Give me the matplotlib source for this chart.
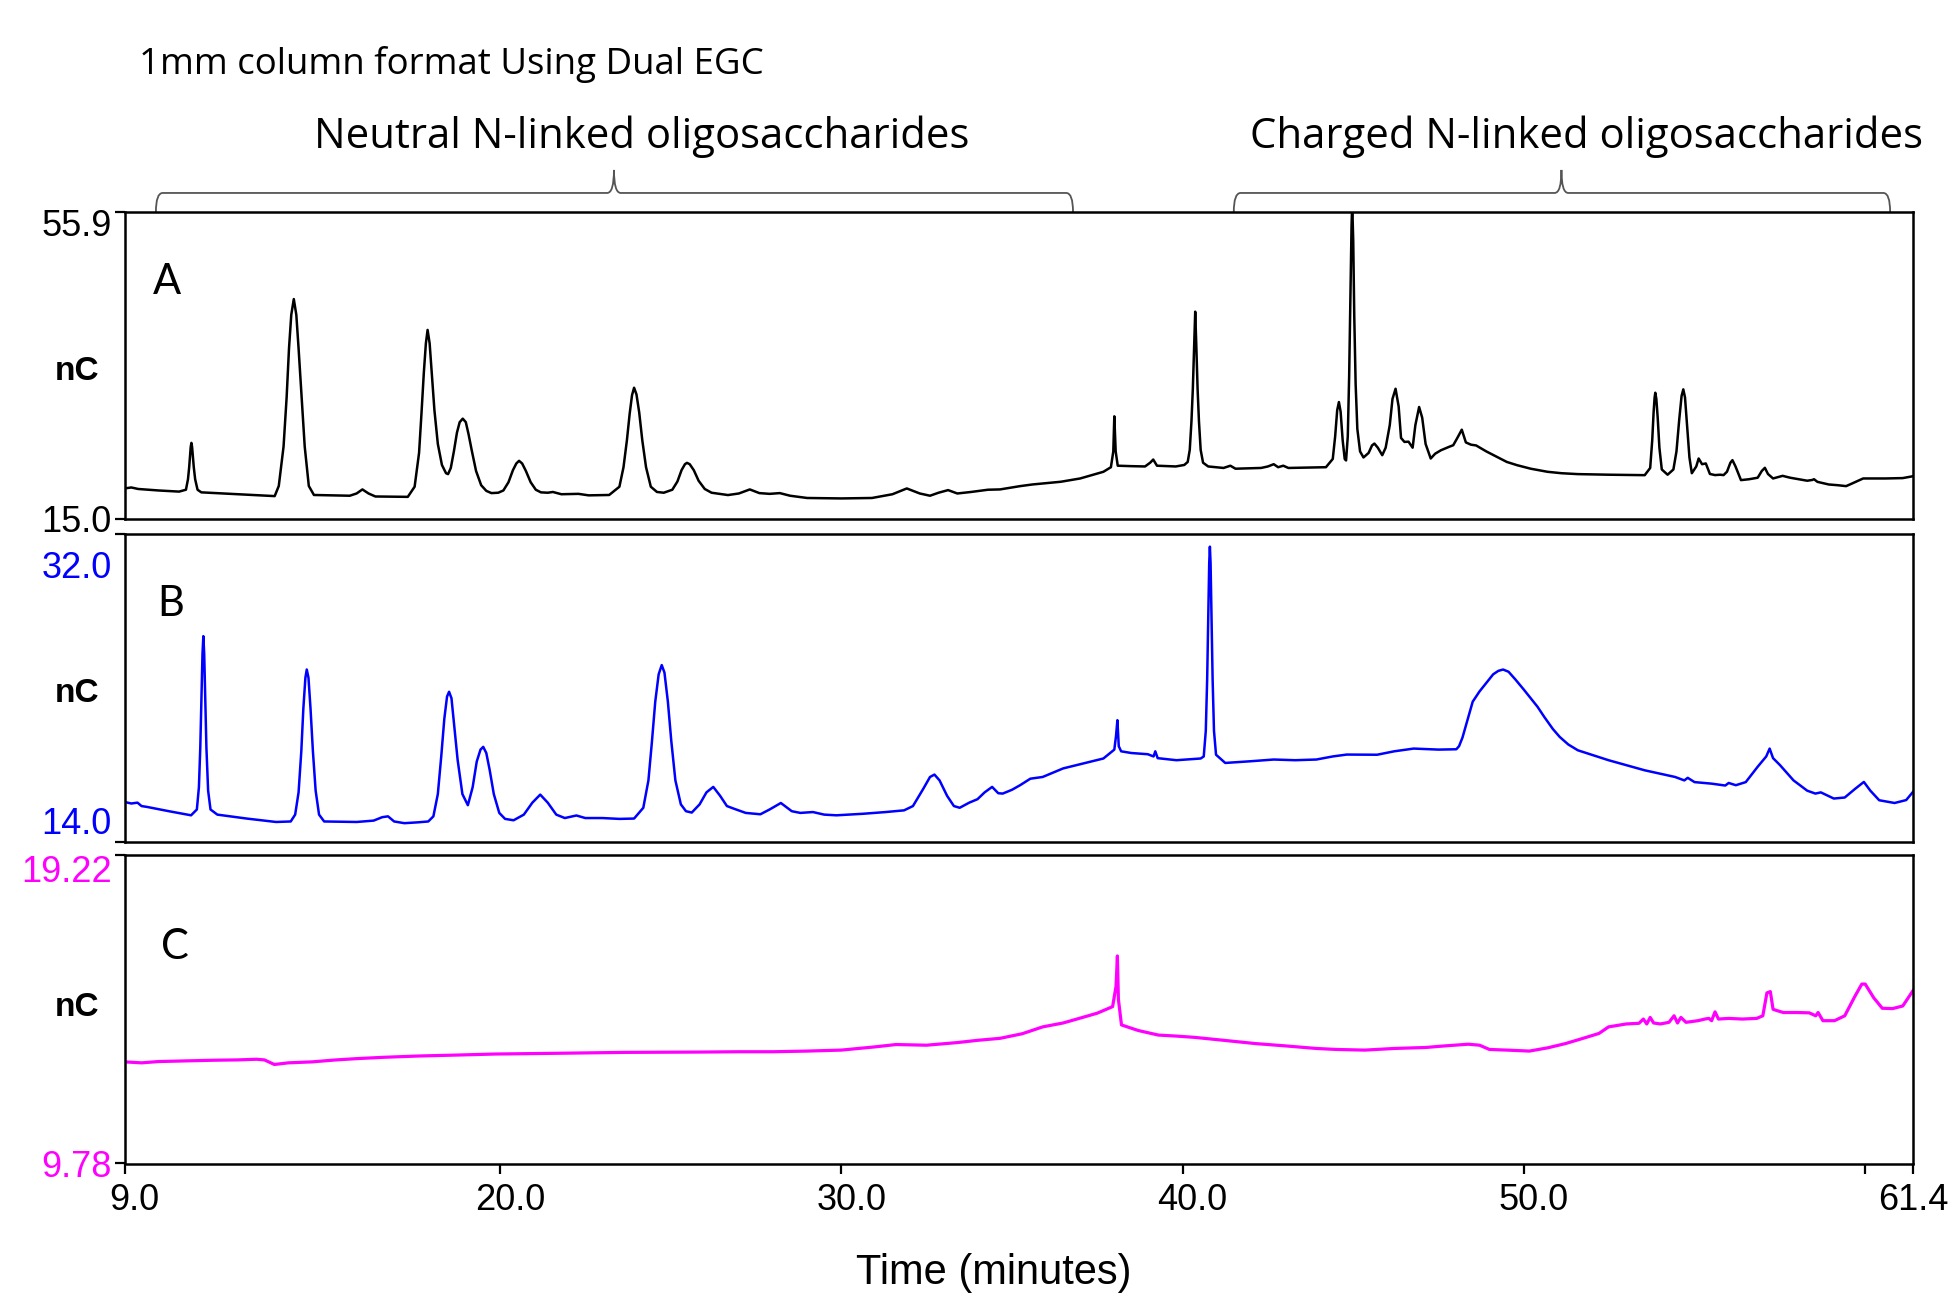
import matplotlib
matplotlib.use("Agg")
import matplotlib.pyplot as plt
import matplotlib.transforms as mtransforms
from matplotlib.path import Path
from matplotlib.patches import PathPatch

# chromatogram traces: (time in minutes, signal in nC)
a_trace = [
    (9.0, 19.07), (9.2, 19.2), (9.4, 19.0), (10.0, 18.8), (10.6, 18.65),
    (10.8, 18.9), (10.86, 20.3), (10.895, 21.9), (10.92, 23.5), (10.94, 24.6), (10.96, 25.14), (10.98, 24.6),
    (11.0, 23.5), (11.03, 21.9), (11.07, 20.3), (11.14, 18.9), (11.25, 18.55),
    (11.9, 18.4), (12.8, 18.2), (13.4, 18.05),
    (13.52, 19.4), (13.66, 24.65), (13.75, 31.2), (13.82, 37.75), (13.886, 42.2), (13.96, 44.3), (14.034, 42.2),
    (14.1, 37.75), (14.19, 31.2), (14.28, 24.65), (14.4, 19.4), (14.55, 18.2),
    (15.6, 18.1), (15.8, 18.4), (15.97, 18.94), (16.15, 18.4), (16.35, 18.0), (17.3, 17.95),
    (17.5, 19.3), (17.63, 23.8), (17.7, 29.0), (17.77, 34.5), (17.83, 38.4), (17.88, 40.19), (17.94, 38.4),
    (18.0, 34.5), (18.08, 29.5), (18.18, 25.0), (18.3, 22.2), (18.42, 21.1), (18.48, 20.98), (18.56, 21.8),
    (18.65, 24.0), (18.74, 26.5), (18.82, 27.9), (18.91, 28.37), (19.0, 27.9), (19.08, 26.3), (19.18, 24.0),
    (19.3, 21.4), (19.45, 19.5), (19.6, 18.75), (19.75, 18.45),
    (19.95, 18.5), (20.1, 18.8), (20.25, 19.9), (20.38, 21.5), (20.48, 22.4), (20.56, 22.75), (20.65, 22.4),
    (20.76, 21.4), (20.9, 19.9), (21.05, 18.9), (21.2, 18.55), (21.4, 18.5),
    (21.55, 18.6), (21.8, 18.3), (22.3, 18.35), (22.6, 18.15), (23.2, 18.2),
    (23.5, 19.3), (23.62, 21.9), (23.72, 25.5), (23.8, 29.0), (23.87, 31.5), (23.93, 32.49), (24.0, 31.6),
    (24.08, 29.2), (24.17, 25.5), (24.28, 21.9), (24.42, 19.3), (24.6, 18.6), (24.8, 18.5),
    (25.05, 18.9), (25.2, 20.0), (25.32, 21.5), (25.42, 22.3), (25.48, 22.48), (25.56, 22.3), (25.68, 21.5),
    (25.82, 20.1), (26.0, 19.0), (26.2, 18.5), (26.68, 18.19),
    (27.0, 18.4), (27.32, 18.94), (27.6, 18.45), (27.9, 18.35), (28.2, 18.45), (28.5, 18.1), (29.0, 17.8),
    (30.0, 17.74), (30.9, 17.8), (31.5, 18.3), (31.92, 19.07), (32.3, 18.4), (32.6, 18.1), (32.85, 18.5),
    (33.13, 18.85), (33.4, 18.4), (33.8, 18.6), (34.3, 18.9), (34.65, 18.94), (35.24, 19.38), (35.6, 19.6),
    (36.43, 19.96), (37.0, 20.4), (37.68, 21.29), (37.9, 21.9), (37.97, 24.0), (38.0, 28.68), (38.04, 24.0),
    (38.1, 22.1), (38.5, 22.04), (38.9, 22.0), (39.05, 22.5), (39.14, 22.92), (39.25, 22.1), (39.8, 22.0),
    (40.05, 22.2), (40.15, 22.6), (40.21, 24.2), (40.26, 28.0), (40.3, 32.3), (40.34, 38.4), (40.37, 42.62),
    (40.4, 38.4), (40.44, 32.3), (40.48, 28.0), (40.53, 24.2), (40.6, 22.5), (40.75, 22.0),
    (41.2, 21.8), (41.4, 22.1), (41.55, 21.7), (42.3, 21.8), (42.5, 22.0),
    (42.67, 22.3), (42.8, 21.9), (42.95, 22.1), (43.1, 21.8), (44.2, 21.9),
    (44.4, 23.0), (44.47, 26.0), (44.53, 29.5), (44.58, 30.58), (44.63, 29.3), (44.69, 25.5), (44.75, 23.0),
    (44.79, 22.8), (44.84, 26.0), (44.88, 34.0), (44.92, 45.0), (44.95, 54.0), (44.97, 57.0), (45.0, 52.0),
    (45.03, 42.0), (45.07, 33.0), (45.12, 27.0), (45.2, 24.0), (45.3, 23.2),
    (45.45, 23.8), (45.55, 24.8), (45.62, 25.05), (45.72, 24.5), (45.85, 23.5),
    (45.95, 24.5), (46.07, 27.5), (46.15, 31.0), (46.24, 32.35), (46.33, 30.0), (46.4, 25.8), (46.5, 25.27),
    (46.62, 25.3), (46.74, 24.5), (46.82, 27.5), (46.93, 29.92), (47.02, 28.5), (47.12, 25.0), (47.27, 23.06),
    (47.4, 23.7), (47.57, 24.16), (47.8, 24.6), (47.93, 24.83), (48.05, 25.8), (48.18, 26.9), (48.3, 25.2),
    (48.45, 24.9), (48.6, 24.8), (48.9, 24.0), (49.2, 23.3), (49.5, 22.6), (49.8, 22.17), (50.2, 21.7),
    (50.69, 21.29), (51.1, 21.1), (51.58, 20.98), (52.5, 20.9), (53.54, 20.84),
    (53.7, 21.8), (53.76, 25.5), (53.8, 29.2), (53.83, 31.2), (53.85, 31.82), (53.88, 31.0), (53.92, 28.5),
    (53.97, 24.5), (54.04, 21.6), (54.21, 20.9), (54.38, 21.6), (54.47, 24.0), (54.55, 28.2), (54.62, 31.4),
    (54.67, 32.27), (54.72, 31.2), (54.78, 27.5), (54.85, 23.2), (54.92, 21.1),
    (55.05, 22.0), (55.12, 23.06), (55.22, 22.3), (55.33, 22.4),
    (55.45, 21.0), (55.6, 20.85), (55.75, 20.9), (55.85, 20.85), (55.95, 21.3), (56.05, 22.5), (56.11, 22.84),
    (56.2, 22.0), (56.36, 20.18), (56.6, 20.3), (56.85, 20.5), (56.97, 21.4), (57.06, 21.82), (57.15, 21.0),
    (57.3, 20.4), (57.58, 20.75), (57.8, 20.5), (58.3, 20.1), (58.45, 20.2), (58.5, 20.3), (58.6, 19.95),
    (58.93, 19.6), (59.2, 19.5), (59.44, 19.38), (59.6, 19.7), (59.94, 20.4), (60.6, 20.4), (61.1, 20.45),
    (61.4, 20.7),
]

b_trace = [
    (9.0, 16.34), (9.2, 16.25), (9.38, 16.3), (9.5, 16.1), (9.66, 16.05), (10.3, 15.8), (10.95, 15.56),
    (11.12, 15.9), (11.18, 17.2), (11.22, 19.5), (11.255, 22.5), (11.285, 25.0), (11.31, 26.03), (11.335, 25.0),
    (11.365, 22.5), (11.4, 19.5), (11.45, 17.0), (11.52, 15.9),
    (11.72, 15.6), (12.58, 15.37), (13.44, 15.17), (13.87, 15.2),
    (14.0, 15.6), (14.1, 16.9), (14.18, 19.3), (14.24, 21.8), (14.3, 23.6), (14.34, 24.08), (14.39, 23.6),
    (14.45, 21.8), (14.52, 19.3), (14.6, 17.0), (14.7, 15.6), (14.85, 15.2),
    (15.8, 15.17), (16.3, 15.25), (16.55, 15.45), (16.72, 15.5), (16.9, 15.2), (17.2, 15.1), (17.6, 15.15),
    (17.9, 15.2),
    (18.05, 15.5), (18.18, 16.8), (18.28, 19.0), (18.37, 21.2), (18.45, 22.5), (18.51, 22.78), (18.58, 22.4),
    (18.66, 20.8), (18.76, 18.8), (18.9, 16.8), (19.06, 16.15), (19.2, 17.2), (19.32, 18.7), (19.43, 19.4),
    (19.51, 19.56), (19.6, 19.2), (19.7, 18.2), (19.82, 16.8), (19.98, 15.7), (20.15, 15.35), (20.4, 15.27),
    (20.7, 15.6), (20.95, 16.3), (21.18, 16.77), (21.4, 16.3), (21.65, 15.6), (21.9, 15.4), (22.24, 15.55),
    (22.5, 15.4), (23.0, 15.4), (23.5, 15.35), (23.93, 15.37),
    (24.2, 16.0), (24.35, 17.6), (24.45, 19.8), (24.55, 22.2), (24.65, 23.8), (24.74, 24.34), (24.82, 23.9),
    (24.92, 22.2), (25.02, 19.9), (25.14, 17.6), (25.3, 16.2), (25.45, 15.8), (25.62, 15.72),
    (25.85, 16.2), (26.05, 16.9), (26.25, 17.22), (26.45, 16.7), (26.65, 16.1), (26.85, 15.95), (27.2, 15.7),
    (27.63, 15.62), (27.9, 15.9), (28.23, 16.28), (28.55, 15.8), (28.8, 15.7), (29.17, 15.75), (29.5, 15.6),
    (29.86, 15.56), (30.64, 15.65), (31.3, 15.75), (31.84, 15.85),
    (32.1, 16.1), (32.4, 17.1), (32.6, 17.8), (32.73, 17.94), (32.88, 17.6), (33.1, 16.7), (33.3, 16.1),
    (33.47, 16.0), (33.75, 16.3), (33.99, 16.5), (34.2, 16.9), (34.42, 17.22), (34.6, 16.85), (34.73, 16.83),
    (35.0, 17.05), (35.24, 17.32), (35.54, 17.7), (35.9, 17.8), (36.5, 18.3), (37.15, 18.62), (37.68, 18.88),
    (38.0, 19.4), (38.05, 20.2), (38.09, 21.12), (38.13, 19.6), (38.2, 19.3), (38.5, 19.2), (38.98, 19.13),
    (39.15, 19.0), (39.2, 19.3), (39.27, 18.9), (39.82, 18.78), (40.53, 18.88),
    (40.62, 19.0), (40.68, 20.5), (40.72, 23.5), (40.755, 27.5), (40.78, 30.3), (40.8, 31.26), (40.82, 30.3),
    (40.845, 27.5), (40.88, 23.5), (40.92, 20.5), (40.98, 19.1),
    (41.25, 18.62), (42.0, 18.72), (42.67, 18.82), (43.3, 18.78), (43.92, 18.82), (44.4, 19.0), (44.81, 19.11),
    (45.7, 19.1), (46.2, 19.3), (46.77, 19.46), (47.5, 19.4), (48.02, 19.42),
    (48.1, 19.6), (48.2, 20.1), (48.3, 20.8), (48.37, 21.31), (48.5, 22.2), (48.7, 22.8), (48.9, 23.3),
    (49.1, 23.8), (49.25, 24.0), (49.39, 24.08), (49.55, 23.95), (49.75, 23.5), (50.0, 22.9), (50.16, 22.5),
    (50.4, 21.9), (50.6, 21.3), (50.85, 20.6), (51.05, 20.14), (51.3, 19.7), (51.58, 19.36),
    (52.48, 18.78), (53.54, 18.19), (54.43, 17.8), (54.7, 17.6), (54.8, 17.75),
    (55.0, 17.5), (55.5, 17.41), (55.9, 17.3), (56.0, 17.45), (56.21, 17.32), (56.5, 17.5), (56.85, 18.4),
    (57.1, 19.0), (57.2, 19.46), (57.3, 18.9), (57.5, 18.5), (57.9, 17.6), (58.3, 17.0), (58.54, 16.83),
    (58.7, 16.9), (59.08, 16.54), (59.4, 16.6), (59.7, 17.1), (59.96, 17.51), (60.15, 17.0), (60.41, 16.44),
    (60.86, 16.28), (61.2, 16.45), (61.4, 16.93),
]

c_trace = [
    (9.0, 12.89), (9.5, 12.86), (10.0, 12.9), (10.8, 12.92), (11.63, 12.94), (12.3, 12.95), (12.87, 12.97),
    (13.1, 12.95), (13.39, 12.81), (13.8, 12.86), (14.5, 12.89), (15.2, 12.95), (15.82, 12.99), (16.6, 13.03),
    (17.64, 13.07), (18.8, 13.1), (19.87, 13.13), (21.5, 13.15), (23.66, 13.18), (25.86, 13.19), (27.0, 13.2),
    (28.0, 13.2), (29.0, 13.22), (30.0, 13.25), (31.0, 13.35), (31.6, 13.42), (32.5, 13.4), (33.4, 13.48),
    (34.0, 13.55), (34.65, 13.61), (35.3, 13.75), (35.9, 13.96), (36.5, 14.08), (36.97, 14.22), (37.5, 14.38),
    (37.95, 14.58), (38.05, 15.2), (38.09, 16.13), (38.12, 14.8), (38.21, 14.02), (38.7, 13.85), (39.29, 13.71),
    (39.8, 13.68), (40.35, 13.64), (41.2, 13.55), (42.13, 13.45), (43.0, 13.38), (43.92, 13.3), (44.5, 13.27),
    (45.34, 13.25), (46.2, 13.3), (47.12, 13.33), (47.7, 13.38), (48.37, 13.43), (48.7, 13.4), (48.99, 13.27),
    (49.5, 13.25), (50.16, 13.22), (50.7, 13.32), (51.22, 13.45), (51.7, 13.6), (52.2, 13.76), (52.48, 13.96),
    (53.0, 14.05), (53.37, 14.07), (53.5, 14.2), (53.6, 14.05), (53.7, 14.25), (53.8, 14.08), (54.0, 14.05),
    (54.25, 14.1), (54.4, 14.3), (54.5, 14.08), (54.6, 14.25), (54.75, 14.1), (55.1, 14.15), (55.3, 14.2),
    (55.42, 14.22), (55.5, 14.15), (55.6, 14.42), (55.7, 14.2), (56.0, 14.22), (56.4, 14.2), (56.82, 14.22),
    (57.0, 14.3), (57.12, 15.0), (57.22, 15.04), (57.3, 14.5), (57.38, 14.47), (57.6, 14.4), (58.0, 14.4),
    (58.36, 14.39), (58.55, 14.3), (58.62, 14.4), (58.76, 14.15), (59.1, 14.15), (59.4, 14.3), (59.7, 14.9),
    (59.9, 15.27), (60.0, 15.27), (60.25, 14.85), (60.5, 14.53), (60.8, 14.52), (61.1, 14.6), (61.4, 15.07),
]

# y ranges of the three panels and their labels
a_range = [15.0, 55.9]
b_range = [14.0, 32.0]
c_range = [9.78, 19.22]
a_labels = ["15.0", "55.9"]
b_labels = ["14.0", "32.0"]
c_labels = ["9.78", "19.22"]

x_ticks = [9.0, 20.0, 30.0, 40.0, 50.0, 60.0, 61.4]
x_labels = ["9.0", "20.0", "30.0", "40.0", "50.0", "", "61.4"]

# bracket spans (start, tip, end) in minutes
neutral_span = [9.92, 23.34, 36.79]
charged_span = [41.5, 51.1, 60.73]

W, H = 1954, 1295
fig = plt.figure(figsize=(W / 100, H / 100), dpi=100)
plt.rcParams["font.family"] = "Liberation Sans"

left = 124.5 / W
width = (1913 - 124.5) / W


def box(top, bottom):
    return [left, 1 - bottom / H, width, (bottom - top) / H]


ax_a = fig.add_axes(box(212, 519))
ax_b = fig.add_axes(box(534, 842))
ax_c = fig.add_axes(box(855, 1163.5))

panels = [
    (ax_a, a_trace, "black", a_range, a_labels, "black", "A", (0.024, 0.773), (0, 10), 1.8),
    (ax_b, b_trace, "#0000ff", b_range, b_labels, "#0000ff", "B", (0.026, 0.774), (-21, 30), 1.8),
    (ax_c, c_trace, "#ff00ff", c_range, c_labels, "#ff00ff", "C", (0.028, 0.702), (0, 13), 2.3),
]

nc_y = [371, 694, 1008]

for i, (ax, trace, col, yr, ylab, labcol, letter, lpos, offs, lw) in enumerate(panels):
    t = [p[0] for p in trace]
    v = [p[1] for p in trace]
    ax.plot(t, v, color=col, lw=lw, solid_joinstyle="round")
    ax.set_xlim(9.0, 61.4)
    ax.set_ylim(yr[0], yr[1])
    for s in ax.spines.values():
        s.set_linewidth(1.8)
    ax.set_yticks(yr)
    ax.set_yticklabels(ylab, fontsize=26, color=labcol)
    ax.tick_params(axis="y", direction="out", length=7, width=1.6, pad=2)
    for lab, dy in zip(ax.get_yticklabels(), offs):
        lab.set_transform(lab.get_transform() +
                          mtransforms.ScaledTranslation(0, -dy / 100, fig.dpi_scale_trans))
    if ax is ax_c:
        ax.set_xticks(x_ticks)
        ax.set_xticklabels(x_labels, fontsize=26)
        ax.tick_params(axis="x", direction="out", length=7, width=1.6, pad=7)
        for lab, txt in zip(ax.get_xticklabels(), x_labels):
            dx = 0.0 if txt == "61.4" else 0.10
            lab.set_transform(lab.get_transform() +
                              mtransforms.ScaledTranslation(dx, 0, fig.dpi_scale_trans))
    else:
        ax.set_xticks([])
    ax.text(lpos[0], lpos[1], letter, transform=ax.transAxes, fontsize=30,
            family="Lato", ha="center", va="center")
    fig.text(77 / W, 1 - nc_y[i] / H, "nC", fontsize=24, fontweight="bold",
             ha="center", va="center")


def brace(ax, x0, xm, x1, r=0.2):
    tr = mtransforms.blended_transform_factory(ax.transData, ax.transAxes)
    yb, yh, yt = 1.0, 1.062, 1.137
    verts = [(x0, yb), (x0, yh), (x0 + r, yh), (xm - r, yh), (xm, yh), (xm, yt),
             (xm, yh), (xm + r, yh), (x1 - r, yh), (x1, yh), (x1, yb)]
    codes = [Path.MOVETO, Path.CURVE3, Path.CURVE3, Path.LINETO, Path.CURVE3, Path.CURVE3,
             Path.CURVE3, Path.CURVE3, Path.LINETO, Path.CURVE3, Path.CURVE3]
    patch = PathPatch(Path(verts, codes), transform=tr, fill=False,
                      edgecolor="#555555", lw=1.3, clip_on=False)
    ax.add_patch(patch)


brace(ax_a, *neutral_span)
brace(ax_a, *charged_span)

fig.text(139 / W, 1 - 74 / H, "1mm column format Using Dual EGC", family="Open Sans",
         fontsize=26.4, ha="left", va="baseline")
fig.text(642 / W, 1 - 148 / H, "Neutral N-linked oligosaccharides", family="Open Sans",
         fontsize=30.2, ha="center", va="baseline")
fig.text(1586 / W, 1 - 148 / H, "Charged N-linked oligosaccharides", family="Open Sans",
         fontsize=30.2, ha="center", va="baseline")
fig.text(994 / W, 1 - 1273 / H, "Time (minutes)", fontsize=30, ha="center", va="center")

fig.savefig("out.png", dpi=100)
